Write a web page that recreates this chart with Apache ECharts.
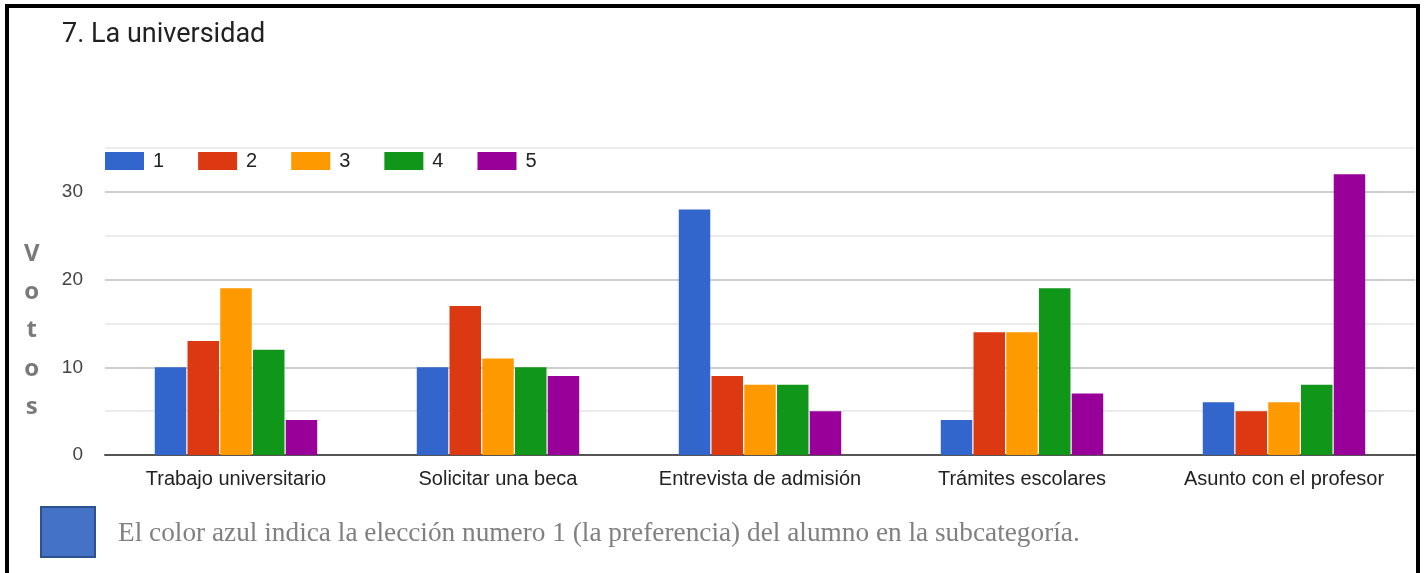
<!DOCTYPE html>
<html>
<head>
<meta charset="utf-8">
<script src="https://cdn.jsdelivr.net/npm/echarts@6/dist/echarts.min.js"></script>
<style>
  html, body { margin: 0; padding: 0; background: #fff; }
  #frame {
    position: absolute; left: 5px; top: 4px; width: 1407px; height: 600px;
    border-left: 4px solid #000; border-top: 4px solid #000; border-right: 4px solid #000;
  }
  #chart { position: absolute; left: 0; top: 0; width: 1425px; height: 573px; }
</style>
</head>
<body>
<div id="chart"></div>
<div id="frame"></div>
<script>
// Categories and votes per preference rank (1 = first choice)
const categories = ['Trabajo universitario', 'Solicitar una beca', 'Entrevista de admisión', 'Trámites escolares', 'Asunto con el profesor'];
const seriesNames = ['1', '2', '3', '4', '5'];
const rank1 = [10, 10, 28, 4, 6];
const rank2 = [13, 17, 9, 14, 5];
const rank3 = [19, 11, 8, 14, 6];
const rank4 = [12, 10, 8, 19, 8];
const rank5 = [4, 9, 5, 7, 32];
const colors = ['#3366cc', '#dc3912', '#ff9900', '#109618', '#990099'];
const yTicks = [0, 10, 20, 30];

const values = [rank1, rank2, rank3, rank4, rank5];
const chart = echarts.init(document.getElementById('chart'));

chart.setOption({
  animation: false,
  textStyle: { fontFamily: 'Liberation Sans, Arial, sans-serif' },
  title: {
    text: '7. La universidad',
    left: 57, top: 17,
    textStyle: { fontFamily: 'Roboto, sans-serif', fontSize: 27, fontWeight: 'normal', color: '#212121' }
  },
  legend: {
    data: seriesNames,
    left: 100, top: 146,
    itemWidth: 39, itemHeight: 18, itemGap: 34,
    icon: 'rect',
    textStyle: { fontSize: 20, color: '#222', padding: [0, 0, 0, 4] }
  },
  grid: { left: 105, right: 10, top: 148, bottom: 118 },
  xAxis: {
    type: 'category',
    data: categories,
    axisTick: { show: false },
    axisLine: { lineStyle: { color: '#555', width: 2 } },
    axisLabel: { fontSize: 20, color: '#222', margin: 14, interval: 0 }
  },
  yAxis: {
    type: 'value',
    min: 0, max: 35, interval: 5,
    axisLine: { show: false },
    axisTick: { show: false },
    axisLabel: {
      fontSize: 19, color: '#444', margin: 22,
      formatter: v => yTicks.includes(v) ? String(v) : ''
    },
    splitLine: { lineStyle: { color: ['#cfcfcf', '#ebebeb'], width: 2 } }
  },
  graphic: [
    {
      type: 'text', left: 24, top: 235,
      style: {
        text: 'V\no\nt\no\ns', fontFamily: 'Open Sans, sans-serif', fontWeight: 'bold',
        fontSize: 24, lineHeight: 38.2, fill: '#7a7a7a', textAlign: 'center'
      }
    },
    {
      type: 'rect', shape: { x: 41, y: 507, width: 54, height: 50 },
      style: { fill: '#4472c4', stroke: '#2f528f', lineWidth: 2 }
    },
    {
      type: 'text', left: 118, top: 520,
      style: {
        text: 'El color azul indica la elección numero 1 (la preferencia) del alumno en la subcategoría.',
        fontFamily: 'Liberation Serif, serif', fontSize: 27.3, fill: '#808080'
      }
    }
  ],
  series: seriesNames.map((name, i) => ({
    name: name,
    type: 'bar',
    data: values[i],
    barGap: '4%',
    barCategoryGap: '38%',
    itemStyle: { color: colors[i] }
  }))
});
</script>
</body>
</html>
